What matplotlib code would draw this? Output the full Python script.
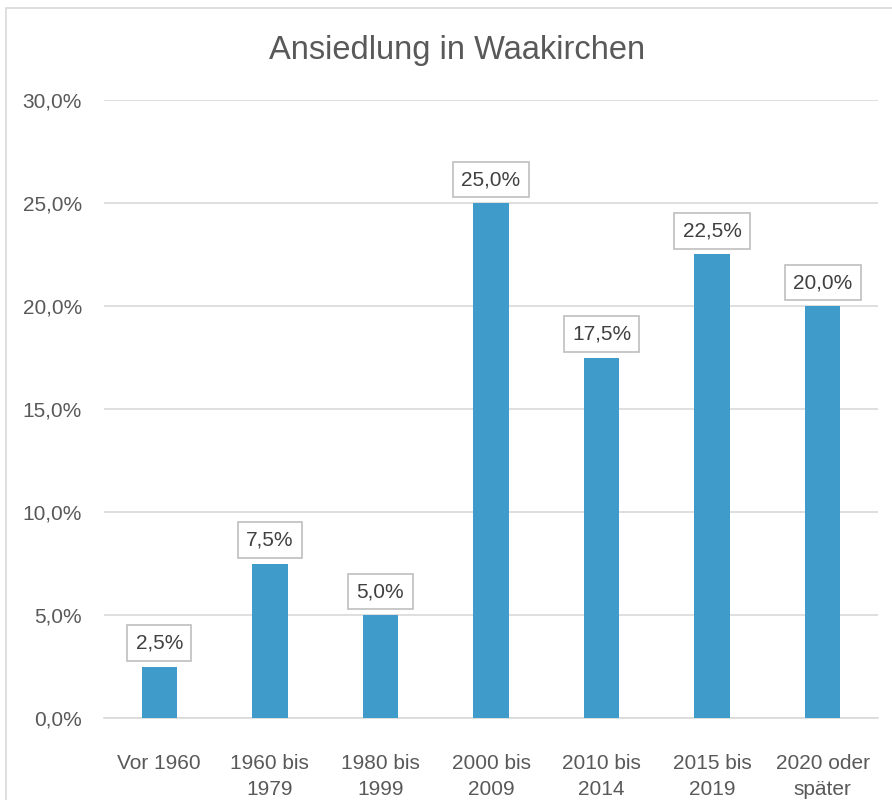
import matplotlib.pyplot as plt
from matplotlib.patches import Rectangle
from matplotlib.ticker import FuncFormatter

# ------------------------------
# Data
# ------------------------------
categories = ["Vor 1960", "1960 bis\n1979", "1980 bis\n1999", "2000 bis\n2009",
              "2010 bis\n2014", "2015 bis\n2019", "2020 oder\nspäter"]
values = [2.5, 7.5, 5.0, 25.0, 17.5, 22.5, 20.0]
yticks = [0, 5, 10, 15, 20, 25, 30]

TEXT = "#595959"
BAR = "#3F9BC9"
GRID = "#D9D9D9"

plt.rcParams["font.family"] = ["Liberation Sans", "DejaVu Sans"]


def de_pct(v, pos=None):
    return f"{v:.1f}%".replace(".", ",")


def main():
    fig = plt.figure(figsize=(8.92, 8.0), dpi=100)
    ax = fig.add_axes([104 / 892, 1 - 718 / 800, (878 - 104) / 892, (718 - 100) / 800])

    # chart border (cut off at right and bottom like the screenshot)
    fig.patches.append(Rectangle((6 / 892, -0.1), 1.2, 1 - 8 / 800 + 0.1,
                                 transform=fig.transFigure, fill=False,
                                 edgecolor=GRID, linewidth=1.2))

    x = range(len(categories))
    ax.bar(x, values, width=0.32, color=BAR, zorder=3)

    for xi, v in zip(x, values):
        ax.annotate(de_pct(v), (xi, v), xytext=(0, 10), textcoords="offset points",
                    ha="center", va="bottom", fontsize=15, color="#404040",
                    bbox=dict(boxstyle="square,pad=0.4", fc="white", ec="#BFBFBF", lw=1.2),
                    zorder=4)

    ax.set_ylim(0, 30)
    ax.set_xlim(-0.5, len(categories) - 0.5)
    ax.set_yticks(yticks)
    ax.yaxis.set_major_formatter(FuncFormatter(de_pct))
    ax.set_xticks(list(x))
    ax.set_xticklabels(categories, linespacing=1.45)
    ax.tick_params(axis="both", length=0, labelsize=15, labelcolor=TEXT)
    ax.tick_params(axis="x", pad=26)
    ax.tick_params(axis="y", pad=16)

    ax.grid(axis="y", color=GRID, linewidth=1.2, zorder=0)
    for side in ["top", "right", "left"]:
        ax.spines[side].set_visible(False)
    ax.spines["bottom"].set_color(GRID)
    ax.spines["bottom"].set_linewidth(1.2)

    fig.text(457 / 892, 1 - 50 / 800, "Ansiedlung in Waakirchen", ha="center",
             va="center", fontsize=23.5, color=TEXT)

    fig.savefig("out.png", dpi=100)
    plt.close(fig)


if __name__ == "__main__":
    main()
